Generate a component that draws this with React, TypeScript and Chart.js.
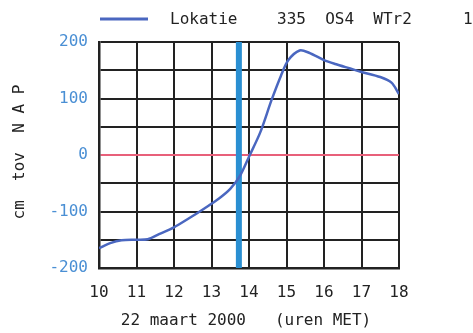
import React, { useEffect, useRef } from "react";
import { Chart, registerables } from "chart.js";

Chart.register(...registerables);

const hours = [10, 10.3, 10.6, 11, 11.3, 11.6, 12, 12.4, 12.8, 13.2, 13.5, 13.75, 14, 14.3, 14.6, 14.85, 15.05, 15.35, 15.6, 16, 16.3, 16.7, 17, 17.5, 17.8, 18];
const waterLevel = [-165, -156, -151, -150, -149, -140, -128, -112, -95, -77, -60, -38, -3, 40, 97, 140, 168, 185, 181, 168, 161, 153, 147, 138, 128, 108];
const markerHour = 13.73;
const yRange = [-200, 200];
const xRange = [10, 18];
const legendLabel = "Lokatie";
const legendInfo = "335  OS4  WTr2";
const legendExtra = "1";
const yTitle = "cm  tov  N A P";
const xTitle = "22 maart 2000   (uren MET)";

const FONT = "'DejaVu Sans Mono', monospace";

export default function App() {
  const ref = useRef<HTMLCanvasElement | null>(null);
  useEffect(() => {
    if (!ref.current) return;
    const textPlugin = {
      id: "texts",
      afterDraw(chart: any) {
        const ctx = chart.ctx;
        const area = chart.chartArea;
        ctx.save();
        // legend
        ctx.strokeStyle = "#4a67c0";
        ctx.lineWidth = 3;
        ctx.beginPath();
        ctx.moveTo(area.left + 1, 19);
        ctx.lineTo(area.left + 49, 19);
        ctx.stroke();
        ctx.fillStyle = "#222";
        ctx.font = "16px " + FONT;
        ctx.textBaseline = "middle";
        ctx.textAlign = "left";
        ctx.fillText(legendLabel, 170, 20);
        ctx.fillText(legendInfo, 277, 20);
        ctx.fillText(legendExtra, 463, 20);
        // x title
        ctx.textAlign = "center";
        ctx.fillText(xTitle, 246, 321);
        // y title
        ctx.translate(20, 152);
        ctx.rotate(-Math.PI / 2);
        ctx.fillText(yTitle, 0, 0);
        ctx.restore();
      },
    };
    const chart = new Chart(ref.current, {
      type: "line",
      data: {
        datasets: [
          {
            data: hours.map((h, i) => ({ x: h, y: waterLevel[i] })),
            borderColor: "#4a67c0",
            borderWidth: 2.5,
            pointRadius: 0,
            tension: 0.3,
          },
          {
            data: [
              { x: markerHour, y: yRange[0] },
              { x: markerHour, y: yRange[1] },
            ],
            borderColor: "#2a8fd2",
            borderWidth: 6,
            pointRadius: 0,
          },
        ],
      },
      options: {
        animation: false,
        responsive: false,
        layout: { padding: { left: 0, top: 42, right: 74, bottom: 0 } },
        plugins: { legend: { display: false }, tooltip: { enabled: false } },
        scales: {
          x: {
            type: "linear",
            min: xRange[0],
            max: xRange[1],
            ticks: { stepSize: 1, color: "#222", font: { family: FONT, size: 16 }, padding: 15, maxRotation: 0 },
            grid: { color: "#222", lineWidth: 2, drawTicks: false },
            border: { color: "#222", width: 2.5 },
            afterFit(scale: any) { scale.height = 65; },
          },
          y: {
            min: yRange[0],
            max: yRange[1],
            ticks: {
              stepSize: 50,
              color: "#4a8fd4",
              font: { family: FONT, size: 16 },
              padding: 11,
              callback: (v: any) => (v % 100 === 0 ? String(v) : ""),
            },
            grid: {
              color: (c: any) => (c.tick && c.tick.value === 0 ? "#e8607a" : "#222"),
              lineWidth: 2,
              drawTicks: false,
            },
            border: { color: "#222", width: 2.5 },
            afterFit(scale: any) { scale.width = 99; },
          },
        },
      },
      plugins: [textPlugin],
    } as any);
    return () => chart.destroy();
  }, []);
  return (
    <div style={{ position: "fixed", left: 0, top: 0, width: 473, height: 333, background: "#fff" }}>
      <canvas ref={ref} width={473} height={333} style={{ width: 473, height: 333, display: "block" }} />
    </div>
  );
}
